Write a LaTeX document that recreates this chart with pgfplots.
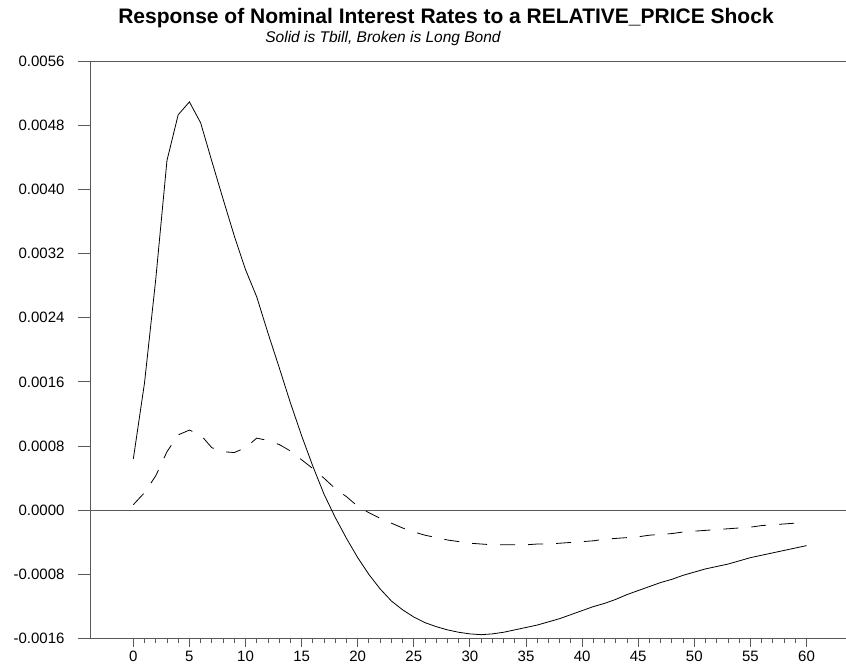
\documentclass[border=0pt]{standalone}
\usepackage{pgfplots}
\pgfplotsset{compat=1.18}
\usepackage{fontspec}
\setmainfont{Liberation Sans}

% Impulse responses, horizons 0..60
\pgfplotstableread{
h tbill longbond
0 0.00064 0.00007
1 0.00159 0.00022
2 0.00288 0.00043
3 0.00436 0.00073
4 0.00493 0.00094
5 0.00509 0.00100
6 0.00483 0.00094
7 0.00435 0.00078
8 0.00388 0.00073
9 0.00342 0.00072
10 0.00300 0.00078
11 0.00266 0.00090
12 0.00221 0.00087
13 0.00178 0.00082
14 0.00134 0.00074
15 0.00093 0.00063
16 0.00055 0.00052
17 0.00020 0.00040
18 -0.00009 0.00027
19 -0.00035 0.00017
20 -0.00059 0.00005
21 -0.00080 -0.00003
22 -0.00098 -0.00010
23 -0.00113 -0.00016
24 -0.00124 -0.00022
25 -0.00133 -0.00027
26 -0.00140 -0.00031
27 -0.00145 -0.00034
28 -0.00149 -0.00037
29 -0.00152 -0.00039
30 -0.00154 -0.00041
31 -0.00155 -0.00042
32 -0.00154 -0.00043
33 -0.00152 -0.00043
34 -0.00149 -0.00043
35 -0.00146 -0.00043
36 -0.00143 -0.00042
37 -0.00139 -0.00042
38 -0.00135 -0.00041
39 -0.00130 -0.00040
40 -0.00125 -0.00039
41 -0.00120 -0.00038
42 -0.00116 -0.00036
43 -0.00111 -0.00035
44 -0.00105 -0.00034
45 -0.00100 -0.00033
46 -0.00095 -0.00031
47 -0.00090 -0.00030
48 -0.00086 -0.00029
49 -0.00081 -0.00027
50 -0.00077 -0.00026
51 -0.00073 -0.00025
52 -0.00070 -0.00024
53 -0.00067 -0.00023
54 -0.00063 -0.00022
55 -0.00059 -0.00021
56 -0.00056 -0.00019
57 -0.00053 -0.00018
58 -0.00050 -0.00017
59 -0.00047 -0.00016
60 -0.00044 -0.00016
}\irf

\definecolor{axisgray}{gray}{0.35}

\pgfplotsset{
  irfaxis/.style={
    at={(90pt,29.3pt)}, anchor=south west,
    scale only axis, width=755.8pt, height=577.7pt,
    xmin=-3.86, xmax=63.5, ymin=-0.0016, ymax=0.0056,
    axis line style={axisgray, line width=0.9pt},
    tick style={axisgray, line width=0.9pt},
    tick align=outside,
    tick label style={font=\fontsize{15}{17}\selectfont},
    /pgf/number format/assume math mode=true,
    scaled ticks=false,
  }
}

\begin{document}
\begin{tikzpicture}
\path[use as bounding box] (0,0) rectangle (846pt,668pt);

% horizontal axis, ticks and both series
\begin{axis}[irfaxis,
  axis x line*=bottom, axis y line*=left,
  ytick=\empty,
  xtick={0,5,...,60}, minor xtick={0,1,...,60},
  major tick length=8pt, minor tick length=4.5pt,
  xticklabel style={yshift=-1pt},
  clip=false,
]
\draw[axisgray, line width=0.9pt] (axis cs:-3.86,0.0056) -- (axis cs:63.5,0.0056);
\draw[axisgray, line width=0.9pt] (axis cs:-3.86,0) -- (axis cs:63.5,0);
\addplot[black, line width=0.8pt] table[x=h, y=tbill] {\irf};
\addplot[black, line width=0.8pt, dash pattern=on 15pt off 13pt] table[x=h, y=longbond] {\irf};
\end{axis}

% vertical axis ticks and labels
\begin{axis}[irfaxis,
  axis x line=none, axis y line*=left,
  xtick=\empty,
  ytick={-0.0016,-0.0008,0,0.0008,0.0016,0.0024,0.0032,0.0040,0.0048,0.0056},
  yticklabels={-0.0016,-0.0008,0.0000,0.0008,0.0016,0.0024,0.0032,0.0040,0.0048,0.0056},
  major tick length=12pt,
  yticklabel style={xshift=-10pt},
]
\end{axis}

\node[anchor=base, font=\fontsize{21}{24}\selectfont\bfseries] at (446pt,644pt)
  {Response of Nominal Interest Rates to a RELATIVE\_PRICE Shock};
\node[anchor=base, font=\fontsize{15.5}{18}\selectfont\itshape] at (383pt,625pt)
  {Solid is Tbill, Broken is Long Bond};
\end{tikzpicture}
\end{document}
